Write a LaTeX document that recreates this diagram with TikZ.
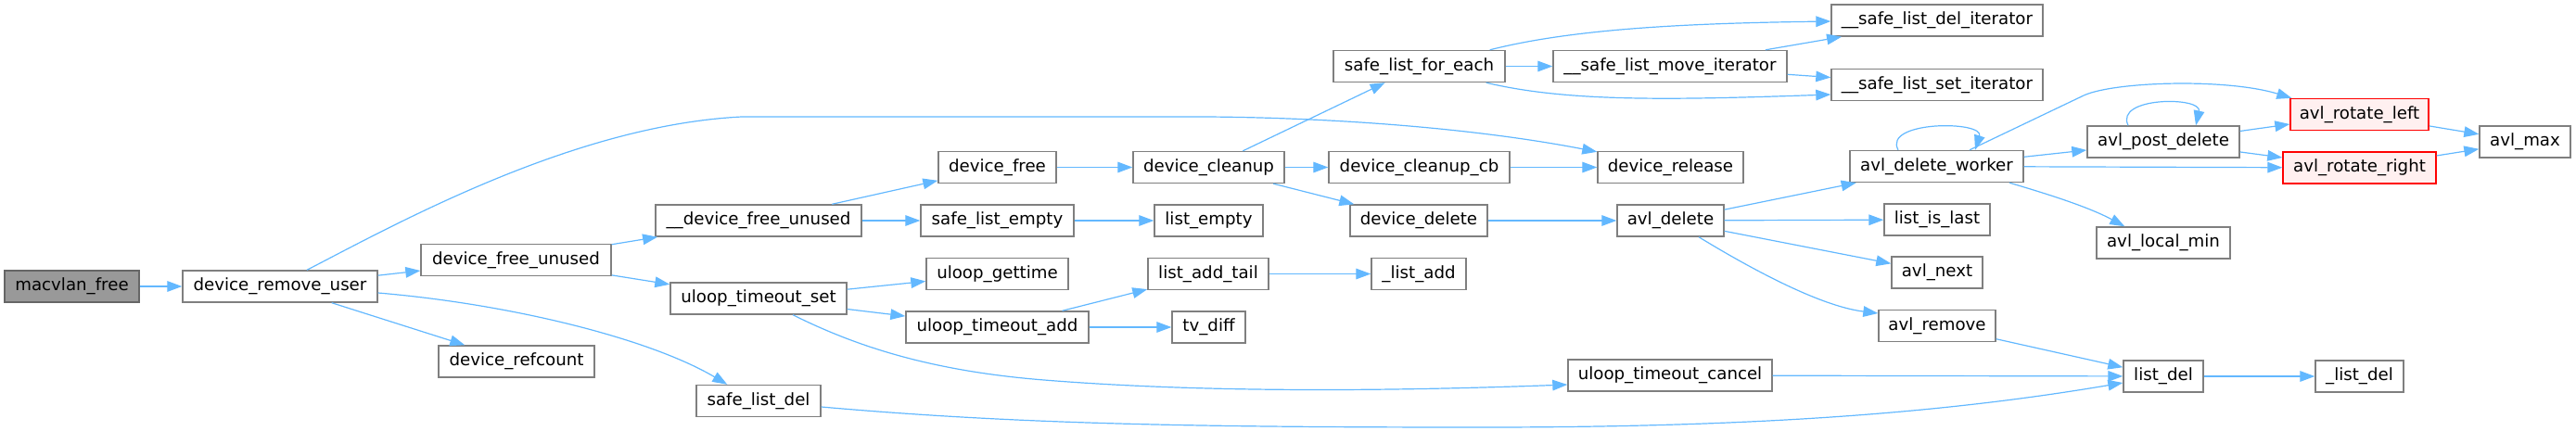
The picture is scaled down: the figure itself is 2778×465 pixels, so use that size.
\documentclass[tikz,border=0pt]{standalone}
\usepackage{fontspec}
\setmainfont{DejaVu Sans}
\usetikzlibrary{arrows.meta,calc}
\definecolor{edgeblue}{HTML}{63B8FF}
\definecolor{nodeborder}{HTML}{7F7F7F}
\definecolor{rootborder}{HTML}{666666}
\definecolor{rootfill}{HTML}{999999}
\definecolor{redfill}{HTML}{FFF0F0}
\begin{document}
\begin{tikzpicture}[x=0.5pt,y=-0.5pt,
  fn/.style={draw=nodeborder, fill=white, line width=0.7pt, minimum height=17pt, inner sep=0pt, font=\fontsize{9.1pt}{10pt}\selectfont, text=black, anchor=center},
  rootfn/.style={fn, fill=rootfill, draw=rootborder},
  redfn/.style={fn, draw=red, fill=redfill},
  call/.style={draw=edgeblue, line width=0.6pt, -{Triangle[length=8pt,width=5.8pt]}}]
\useasboundingbox (0,0) rectangle (2778,465);

% nodes
\node[rootfn, minimum width=72.5pt] (macvlanfree) at (77.5,309) {macvlan\_free};
\node[fn, minimum width=105pt] (devremoveuser) at (302,309) {device\_remove\_user};
\node[fn, minimum width=102.5pt] (devfreeunused) at (556.5,280.5) {device\_free\_unused};
\node[fn, minimum width=84pt] (devrefcount) at (557,390) {device\_refcount};
\node[fn, minimum width=111pt] (ddevfreeunused) at (818,238) {\_\_device\_free\_unused};
\node[fn, minimum width=95pt] (uloopset) at (818,322) {uloop\_timeout\_set};
\node[fn, minimum width=67pt] (safelistdel) at (818,432.5) {safe\_list\_del};
\node[fn, minimum width=63.5pt] (devfree) at (1075.5,180.5) {device\_free};
\node[fn, minimum width=82.5pt] (safelistempty) at (1075.5,238) {safe\_list\_empty};
\node[fn, minimum width=76.5pt] (uloopgettime) at (1075.5,295.5) {uloop\_gettime};
\node[fn, minimum width=98.5pt] (uloopadd) at (1075.5,353) {uloop\_timeout\_add};
\node[fn, minimum width=81.5pt] (devcleanup) at (1303.5,180.5) {device\_cleanup};
\node[fn, minimum width=58.5pt] (listempty) at (1303.5,238) {list\_empty};
\node[fn, minimum width=65pt] (listaddtail) at (1303,295.5) {list\_add\_tail};
\node[fn, minimum width=39.5pt] (tvdiff) at (1303.5,353) {tv\_diff};
\node[fn, minimum width=92.5pt] (safelistforeach) at (1530.5,71.5) {safe\_list\_for\_each};
\node[fn, minimum width=97.5pt] (devcleanupcb) at (1530.5,180.5) {device\_cleanup\_cb};
\node[fn, minimum width=74pt] (devdelete) at (1530,238) {device\_delete};
\node[fn, minimum width=51pt] (listadd) at (1530,295.5) {\_list\_add};
\node[fn, minimum width=126pt] (movedit) at (1801,71.5) {\_\_safe\_list\_move\_iterator};
\node[fn, minimum width=78.5pt] (devrelease) at (1801.5,180.5) {device\_release};
\node[fn, minimum width=57.5pt] (avldelete) at (1801.5,238) {avl\_delete};
\node[fn, minimum width=110pt] (uloopcancel) at (1801,405) {uloop\_timeout\_cancel};
\node[fn, minimum width=114pt] (delit) at (2089,22) {\_\_safe\_list\_del\_iterator};
\node[fn, minimum width=114pt] (setit) at (2089,91.5) {\_\_safe\_list\_set\_iterator};
\node[fn, minimum width=93.5pt] (avldelworker) at (2088.5,179.5) {avl\_delete\_worker};
\node[fn, minimum width=57pt] (listislast) at (2089,237) {list\_is\_last};
\node[fn, minimum width=49pt] (avlnext) at (2089,294) {avl\_next};
\node[fn, minimum width=63pt] (avlremove) at (2089,351.5) {avl\_remove};
\node[fn, minimum width=82pt] (avlpostdelete) at (2333,153) {avl\_post\_delete};
\node[fn, minimum width=72pt] (avllocalmin) at (2333,262) {avl\_local\_min};
\node[fn, minimum width=43pt] (listdel) at (2333,406) {list\_del};
\node[redfn, minimum width=74.5pt] (rotleft) at (2544.5,123.5) {avl\_rotate\_left};
\node[redfn, minimum width=82.5pt] (rotright) at (2544.5,181) {avl\_rotate\_right};
\node[fn, minimum width=47.5pt] (ulistdel) at (2544.5,406) {\_list\_del};
\node[fn, minimum width=49pt] (avlmax) at (2723,153) {avl\_max};

% straight connectors
\draw[call] (macvlanfree) -- (devremoveuser);
\draw[call] (devremoveuser) -- (devfreeunused);
\draw[call] (devremoveuser) -- (devrefcount);
\draw[call] (devfreeunused) -- (ddevfreeunused);
\draw[call] (devfreeunused) -- (uloopset);
\draw[call] (ddevfreeunused) -- (devfree);
\draw[call] (ddevfreeunused) -- (safelistempty);
\draw[call] (uloopset) -- (uloopgettime);
\draw[call] (uloopset) -- (uloopadd);
\draw[call] (devfree) -- (devcleanup);
\draw[call] (safelistempty) -- (listempty);
\draw[call] (uloopadd) -- (listaddtail);
\draw[call] (uloopadd) -- (tvdiff);
\draw[call] (devcleanup) -- (safelistforeach);
\draw[call] (devcleanup) -- (devcleanupcb);
\draw[call] (devcleanup) -- (devdelete);
\draw[call] (listaddtail) -- (listadd);
\draw[call] (safelistforeach) -- (movedit);
\draw[call] (movedit) -- (delit);
\draw[call] (movedit) -- (setit);
\draw[call] (devcleanupcb) -- (devrelease);
\draw[call] (devdelete) -- (avldelete);
\draw[call] (avldelete) -- (avldelworker);
\draw[call] (avldelete) -- (listislast);
\draw[call] (avldelete) -- (avlnext);
\draw[call] (uloopcancel) -- (listdel);
\draw[call] (avlremove) -- (listdel);
\draw[call] (avldelworker) -- (avlpostdelete);
\draw[call] (avldelworker) -- (rotright);
\draw[call] (avlpostdelete) -- (rotleft);
\draw[call] (avlpostdelete) -- (rotright);
\draw[call] (rotleft) -- (avlmax);
\draw[call] (rotright) -- (avlmax);
\draw[call] (listdel) -- (ulistdel);

% curved connectors
\draw[call] ($(devremoveuser.north)+(29,0)$) .. controls (430,240) and (620,135) .. (800,126)
  -- (1300,126) .. controls (1450,127) and (1600,140) .. ($(devrelease.north west)+(0,1)$);
\draw[call] ($(devremoveuser.east)+(0,7)$) .. controls (550,328) and (700,365) .. ($(safelistdel.north west)+(34,0)$);
\draw[call] ($(uloopset.south)+(37,0)$) .. controls (920,372) and (1000,400) .. (1126,410)
  .. controls (1300,424) and (1500,422) .. ($(uloopcancel.west)+(0,10)$);
\draw[call] ($(safelistforeach.north east)+(-17,0)$) .. controls (1700,30) and (1830,25) .. ($(delit.west)+(0,1)$);
\draw[call] ($(safelistforeach.south east)+(-21,0)$) .. controls (1690,110) and (1800,108) .. ($(setit.west)+(0,10.5)$);
\draw[call] ($(avldelete.south)+(30.5,0)$) .. controls (1880,285) and (1960,330) .. ($(avlremove.west)+(0,-13.5)$);
\draw[call] ($(safelistdel.east)+(0,6.5)$) .. controls (1100,458) and (1300,461) .. (1600,461)
  .. controls (1900,461) and (2100,445) .. ($(listdel.west)+(0,7)$);
\draw[call] ($(avldelworker.north)+(-41.5,0)$) .. controls (2030,130) and (2140,130) .. ($(avldelworker.north)+(41.5,0)$);
\draw[call] ($(avldelworker.north)+(35.5,0)$) -- (2245,104) .. controls (2275,88) and (2400,84) .. ($(rotleft.north west)+(2,0)$);
\draw[call] ($(avldelworker.south)+(78.5,0)$) .. controls (2200,207) and (2250,222) .. ($(avllocalmin.north west)+(31,0)$);
\draw[call] ($(avlpostdelete.north)+(-38,0)$) .. controls (2280,104) and (2375,104) .. ($(avlpostdelete.north)+(35,0)$);
\end{tikzpicture}
\end{document}
